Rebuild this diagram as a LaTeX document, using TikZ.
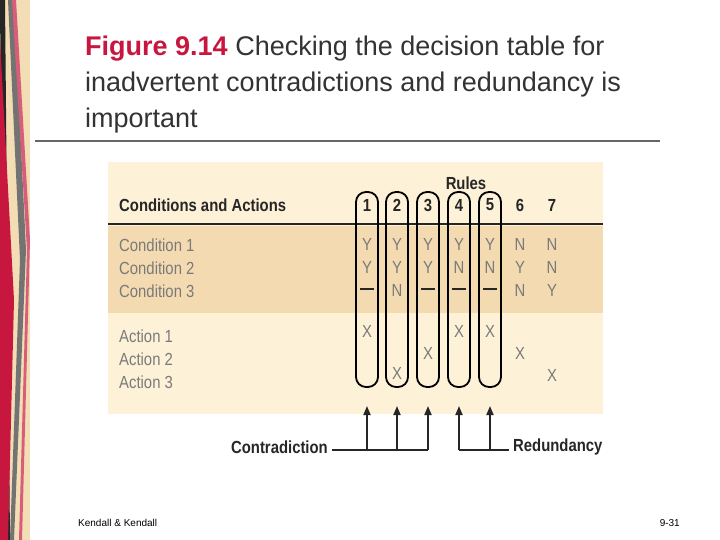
\documentclass[tikz,border=0pt]{standalone}
\usepackage{fontspec}
\setmainfont{Liberation Sans}
\newfontfamily\cond{Liberation Sans}[FakeStretch=0.85]
\usetikzlibrary{arrows.meta}
\definecolor{panel}{HTML}{FDF1D8}
\definecolor{band}{HTML}{F3DAB0}
\definecolor{figred}{HTML}{C8173F}
\definecolor{txt}{HTML}{7A7A7A}
\definecolor{beige}{HTML}{F2DDB5}
\def\dashmark{-}
\tikzset{
  lbl/.style={anchor=west,text=txt,font=\cond\fontsize{17.5}{20}\selectfont,inner sep=0},
  ent/.style={text=txt,font=\cond\fontsize{17.5}{20}\selectfont,inner sep=0},
  hdr/.style={font=\cond\bfseries\fontsize{17.5}{20}\selectfont,text=black!85,inner sep=0},
  capsule/.style={draw=black,line width=1.8pt,rounded corners=10pt,minimum width=22pt,minimum height=195pt,inner sep=0},
  conn/.style={line width=1.8pt,black!85},
  arr/.style={conn,-{Triangle[length=9pt,width=7pt]}},
  dashline/.style={line width=1.6pt,black!85}
}
\begin{document}
\begin{tikzpicture}[x=1pt,y=-1pt]
\useasboundingbox (0,0) rectangle (720,540);
\fill[white] (0,0) rectangle (720,540);
% left decoration
\fill[beige] (0,0) rectangle (30,540);
\fill[black!85] (0,0) -- (5,0) -- (10,540) -- (4,540) -- cycle;
\fill[figred] (0,40) -- (14,300) -- (8,540) -- (0,540) -- cycle;
\fill[black!55] (8,0) -- (14,0) -- (26,250) -- (14,540) -- (10,540) -- (20,260) -- cycle;
\fill[figred!70] (12,0) -- (16,0) -- (30,240) -- (22,540) -- (19,540) -- (27,250) -- cycle;
% title
\node[anchor=north west,align=left,inner sep=0,text=black!80,font=\fontsize{27}{36}\selectfont] (title) at (85,36)
 {{\color{figred}\bfseries Figure 9.14} Checking the decision table for\\inadvertent contradictions and redundancy is\\important};
\draw[line width=2.5pt,black!60] (35,141) -- (660,141);
% panel
\fill[panel] (108,162) rectangle (603,414);
\fill[band] (108,226) rectangle (603,313);
\draw[line width=1.8pt,black!85] (108,224) -- (603,224);
\node[hdr,anchor=west] (ca) at (119,205) {Conditions and Actions};
\node[hdr] (rules) at (466,183) {Rules};
\foreach \t/\y [count=\i] in {Condition 1/245,Condition 2/268,Condition 3/291,Action 1/336,Action 2/359,Action 3/382}
  \node[lbl] (l\i) at (119,\y) {\t};
% columns
\foreach \x/\vA/\vB/\vC/\a [count=\k] in {367/Y/Y/-/331,397/Y/Y/N/373,428/Y/Y/-/353,459/Y/N/-/331,490/Y/N/-/331,520/N/Y/N/353,552/N/N/Y/375}{
  \node[hdr] (r\k) at (\x,205) {\k};
  \node[ent] (c\k a) at (\x,244) {\vA};
  \node[ent] (c\k b) at (\x,267) {\vB};
  \ifx\vC\dashmark\draw[dashline] (\x-7,289) -- (\x+7,289);\else\node[ent] (c\k c) at (\x,290) {\vC};\fi
  \node[ent] (x\k) at (\x,\a) {X};
}
\foreach \x [count=\k] in {367,397,428,459,490}
  \node[capsule] (cap\k) at (\x,289.5) {};
% arrows
\node[hdr,anchor=east] (contra) at (328,447) {Contradiction};
\node[hdr,anchor=west] (redun) at (513,447) {Redundancy};
\coordinate (j1) at (367,450); \coordinate (j2) at (397,450); \coordinate (j3) at (428,450);
\coordinate (j4) at (459,450); \coordinate (j5) at (490,450);
\coordinate (t1) at (367,406); \coordinate (t2) at (397,406); \coordinate (t3) at (428,406);
\coordinate (t4) at (459,406); \coordinate (t5) at (490,406);
\draw[conn] ([xshift=4pt,yshift=-3pt]contra.east) -- (j3);
\draw[conn] (j4) -- ([xshift=-4pt,yshift=-3pt]redun.west);
\foreach \k in {1,...,5} \draw[arr] (j\k) -- (t\k);
% footer
\node[anchor=west,inner sep=0,font=\fontsize{10}{12}\selectfont] (foot) at (78,523) {Kendall \& Kendall};
\node[anchor=east,inner sep=0,font=\fontsize{10}{12}\selectfont] (page) at (680,523) {9-31};
\end{tikzpicture}
\end{document}
